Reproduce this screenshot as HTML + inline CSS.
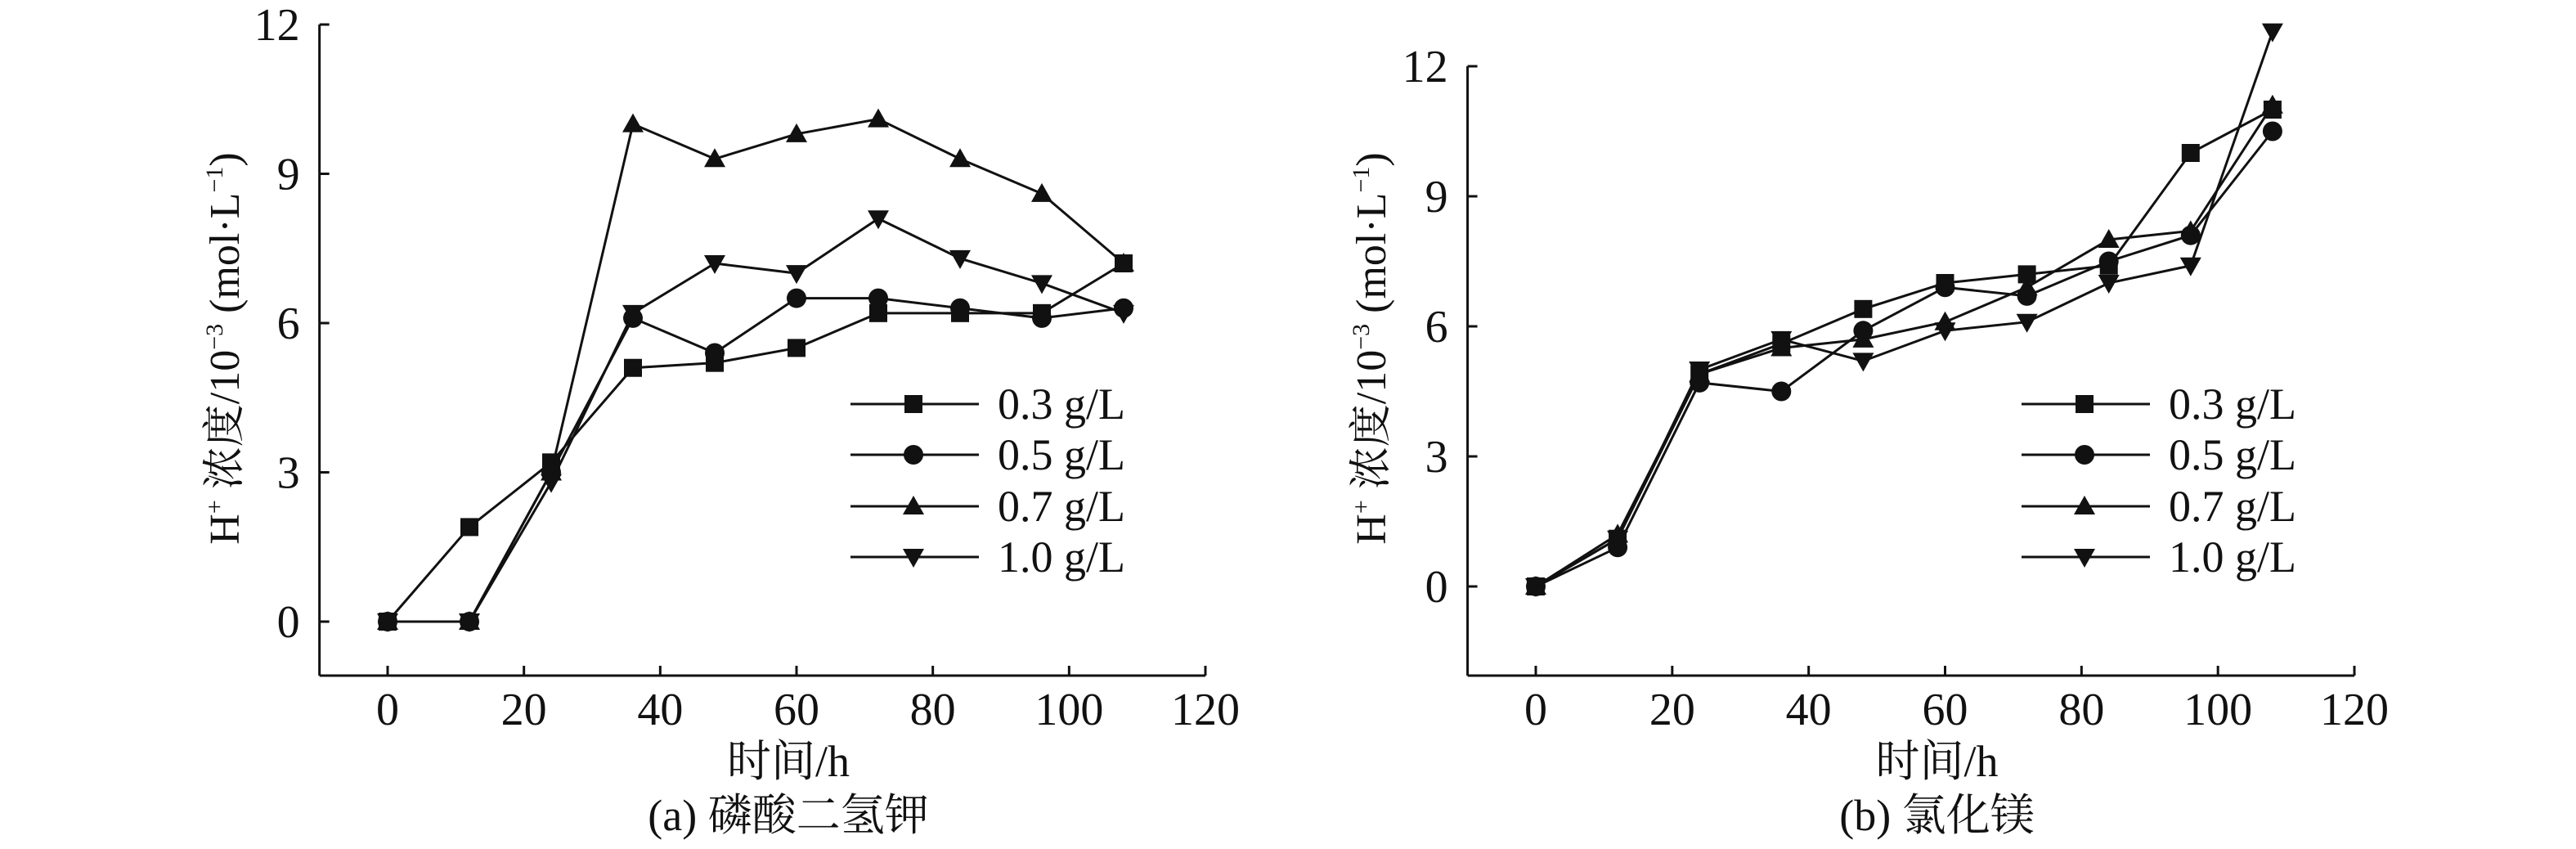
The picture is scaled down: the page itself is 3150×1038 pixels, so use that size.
<!DOCTYPE html>
<html><head><meta charset="utf-8">
<style>
html,body{margin:0;padding:0;background:#fff;}
svg{display:block;}
text{font-family:"Liberation Serif","Noto Serif CJK SC",serif;fill:#111;}
</style></head>
<body>
<svg id="fig" width="3150" height="1038" viewBox="0 0 3150 1038" xmlns="http://www.w3.org/2000/svg"></svg>
<script>
const xTicks=[0,20,40,60,80,100,120];
const yTicks=[0,3,6,9,12];
const hours=[0,12,24,36,48,60,72,84,96,108];
const seriesNames=["0.3 g/L","0.5 g/L","0.7 g/L","1.0 g/L"];
const markers=["square","circle","up","down"];
const aS03=[0,1.9,3.2,5.1,5.2,5.5,6.2,6.2,6.2,7.2];
const aS05=[0,0,3.0,6.1,5.4,6.5,6.5,6.3,6.1,6.3];
const aS07=[0,0,3.0,10.0,9.3,9.8,10.1,9.3,8.6,7.2];
const aS10=[0,0,2.8,6.2,7.2,7.0,8.1,7.3,6.8,6.2];
const bS03=[0,1.1,4.9,5.6,6.4,7.0,7.2,7.4,10.0,11.0];
const bS05=[0,0.9,4.7,4.5,5.9,6.9,6.7,7.5,8.1,10.5];
const bS07=[0,1.2,4.9,5.5,5.7,6.1,6.9,8.0,8.2,11.1];
const bS10=[0,1.1,5.0,5.7,5.2,5.9,6.1,7.0,7.4,12.8];

const NS="http://www.w3.org/2000/svg";
const svg=document.getElementById('fig');
function el(tag,attrs,parent){const e=document.createElementNS(NS,tag);for(const k in attrs)e.setAttribute(k,attrs[k]);(parent||svg).appendChild(e);return e;}

function marker(g,type,cx,cy){
  let m;const s=11;
  if(type==="square")m=el('rect',{x:cx-s,y:cy-s,width:2*s,height:2*s,fill:'#111'},g);
  else if(type==="circle")m=el('circle',{cx:cx,cy:cy,r:12,fill:'#111'},g);
  else if(type==="up")m=el('polygon',{points:`${cx},${cy-13} ${cx-13},${cy+10} ${cx+13},${cy+10}`,fill:'#111'},g);
  else m=el('polygon',{points:`${cx},${cy+13} ${cx-13},${cy-10} ${cx+13},${cy-10}`,fill:'#111'},g);
  
  
}

function chart(cfg){
  const g=el('g',{});
  
  
  const X=v=>cfg.x0+(v-0)*(cfg.x120-cfg.x0)/120;
  const Y=v=>cfg.y0+(v-0)*(cfg.y12-cfg.y0)/12;
  const xL=X(-10), yB=cfg.yB;
  const ya=el('line',{x1:xL,y1:Y(12),x2:xL,y2:yB,stroke:'#111','stroke-width':3},g);
  
  const xa=el('line',{x1:xL,y1:yB,x2:X(120),y2:yB,stroke:'#111','stroke-width':3},g);
  
  xTicks.forEach(t=>{
    const tk=el('line',{x1:X(t),y1:yB,x2:X(t),y2:yB-12,stroke:'#111','stroke-width':3},g);
    
    const tl=el('text',{x:X(t),y:yB+60,'font-size':56,'text-anchor':'middle'},g);tl.textContent=t;
    
  });
  yTicks.forEach(t=>{
    const tk=el('line',{x1:xL,y1:Y(t),x2:xL+12,y2:Y(t),stroke:'#111','stroke-width':3},g);
    
    const tl=el('text',{x:xL-24,y:Y(t)+19,'font-size':56,'text-anchor':'end'},g);tl.textContent=t;
    
  });
  cfg.series.forEach((s,i)=>{
    const sg=el('g',{},g);
    
    
    el('polyline',{points:hours.map((h,j)=>X(h)+','+Y(s[j])).join(' '),fill:'none',stroke:'#111','stroke-width':3},sg);
    hours.forEach((h,j)=>marker(sg,markers[i],X(h),Y(s[j])));
  });
  const lg=el('g',{},g);
  
  const ly=[494,556,619,681];
  seriesNames.forEach((n,i)=>{
    const eg=el('g',{},lg);
    
    el('line',{x1:cfg.legX,y1:ly[i],x2:cfg.legX+157,y2:ly[i],stroke:'#111','stroke-width':3},eg);
    marker(eg,markers[i],cfg.legX+77,ly[i]);
    const t=el('text',{x:cfg.legX+180,y:ly[i]+18,'font-size':54},eg);t.textContent=n;
  });
  const yl=el('text',{x:0,y:0,'font-size':52,'text-anchor':'middle',transform:`translate(${cfg.ylabX},426) rotate(-90)`},g);
  
  yl.innerHTML='H<tspan font-size="30" dy="-20">+</tspan><tspan dy="20"> 浓度/10</tspan><tspan font-size="30" dy="-20">−3</tspan><tspan dy="20"> (mol·L</tspan><tspan font-size="30" dy="-20">−1</tspan><tspan dy="20">)</tspan>';
  const xt=el('text',{x:(X(0)+X(120))/2-10,y:949,'font-size':54,'text-anchor':'middle'},g);xt.textContent='时间/h';
  
  const cp=el('text',{x:(X(0)+X(120))/2-10,y:1015,'font-size':54,'text-anchor':'middle'},g);cp.textContent=cfg.caption;
  
}

chart({name:'chart-a',x0:474,x120:1474,y0:760,y12:30,yB:826,legX:1040,ylabX:292,caption:'(a) 磷酸二氢钾',series:[aS03,aS05,aS07,aS10]});
chart({name:'chart-b',x0:1878,x120:2879,y0:717,y12:81,yB:826,legX:2472,ylabX:1694,caption:'(b) 氯化镁',series:[bS03,bS05,bS07,bS10]});
</script>
</body></html>
